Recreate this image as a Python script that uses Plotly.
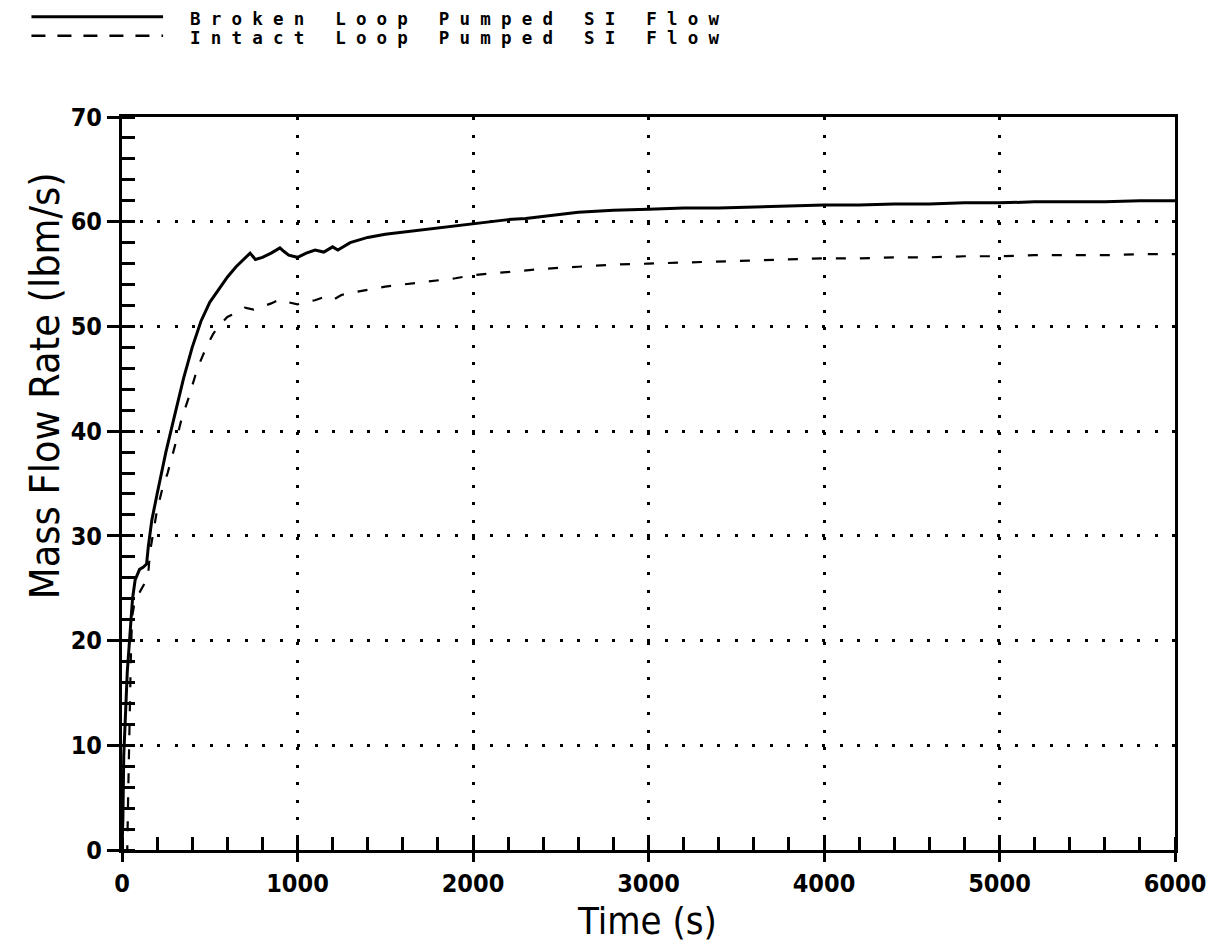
import plotly.graph_objects as go


# -------------------------------------------------------
# Data
# -------------------------------------------------------

broken_time = [
    0, 5, 10, 20, 30, 45, 60, 75, 100, 120, 140, 150, 170, 200, 250,
    300, 350, 400, 450, 500, 550, 600, 650, 700, 730, 760, 800, 850,
    900, 920, 950, 1000, 1050, 1100, 1150, 1200, 1230, 1300, 1400,
    1500, 1600, 1700, 1800, 1900, 2000, 2100, 2200, 2300, 2400, 2500,
    2600, 2700, 2800, 3000, 3200, 3400, 3600, 3800, 4000, 4200, 4400,
    4600, 4800, 5000, 5200, 5400, 5600, 5800, 6000
]

broken_flow = [
    0, 3, 9, 14, 17, 20.5, 24, 25.8, 26.8, 27, 27.3, 29, 31.5, 34, 38,
    41.5, 45, 48, 50.5, 52.3, 53.5, 54.7, 55.7, 56.5, 57, 56.4, 56.6, 57,
    57.5, 57.2, 56.8, 56.6, 57, 57.3, 57.1, 57.6, 57.3, 58, 58.5,
    58.8, 59, 59.2, 59.4, 59.6, 59.8, 60, 60.2, 60.3, 60.5, 60.7,
    60.9, 61, 61.1, 61.2, 61.3, 61.3, 61.4, 61.5, 61.6, 61.6, 61.7,
    61.7, 61.8, 61.8, 61.9, 61.9, 61.9, 62.0, 62.0
]

intact_time = [
    0, 30, 35, 40, 45, 50, 55, 60, 70, 85, 100, 120, 140, 150, 160,
    180, 200, 230, 260, 300, 340, 380, 430, 480, 520, 560, 600, 650,
    700, 750, 800, 850, 900, 950, 1000, 1050, 1100, 1150, 1200, 1250,
    1300, 1400, 1500, 1600, 1700, 1800, 1900, 2000, 2200, 2400, 2600,
    2800, 3000, 3200, 3400, 3600, 3800, 4000, 4200, 4400, 4600, 4800,
    5000, 5200, 5400, 5600, 5800, 6000
]

intact_flow = [
    0, 0, 5, 11, 15, 18, 21, 22.5, 23.5, 24.2, 24.6, 25.2, 25.8, 26.5, 28.5,
    30.5, 32.5, 34.5, 36, 38.5, 41.2, 43.2, 46, 48, 49.3, 50.2, 50.9, 51.3,
    51.8, 51.6, 51.9, 52.2, 52.6, 52.3, 52.1, 52.4, 52.5, 52.8, 52.5, 53,
    53.2, 53.5, 53.8, 54, 54.2, 54.4, 54.6, 54.9, 55.2, 55.5, 55.7,
    55.9, 56, 56.1, 56.2, 56.3, 56.4, 56.5, 56.5, 56.6, 56.6, 56.7,
    56.7, 56.8, 56.8, 56.8, 56.9, 56.9
]

series_names = [
    "Broken Loop Pumped SI Flow",
    "Intact Loop Pumped SI Flow"
]

x_ticks = [0, 1000, 2000, 3000, 4000, 5000, 6000]
y_ticks = [0, 10, 20, 30, 40, 50, 60, 70]


NARROW = "DejaVu Sans Condensed, DejaVu Sans, sans-serif"
MONO = "DejaVu Sans Mono, Liberation Mono, monospace"


# -------------------------------------------------------
# Figure
# -------------------------------------------------------

fig = go.Figure()

fig.add_trace(
    go.Scatter(
        x=broken_time,
        y=broken_flow,
        mode="lines",
        line=dict(color="black", width=3),
        name=series_names[0],
        showlegend=False
    )
)

fig.add_trace(
    go.Scatter(
        x=intact_time,
        y=intact_flow,
        mode="lines",
        line=dict(color="black", width=2.2, dash="10px,14px"),
        name=series_names[1],
        showlegend=False
    )
)

axis_common = dict(
    showline=True,
    linecolor="black",
    linewidth=3,
    mirror=True,
    zeroline=False,
    showgrid=True,
    gridcolor="black",
    gridwidth=3,
    griddash="3px,14.5px",
    ticks="outside",
    tickwidth=3,
    tickcolor="black",
    tickfont=dict(family=NARROW, size=25, color="black", weight="bold"),
)

fig.update_xaxes(
    range=[0, 6000],
    tickvals=x_ticks,
    ticklen=9,
    minor=dict(dtick=200, ticks="inside", ticklen=13, tickwidth=3,
               tickcolor="black", showgrid=False),
    **axis_common
)

fig.update_yaxes(
    range=[0, 70],
    tickvals=y_ticks,
    ticklen=12,
    minor=dict(dtick=2, ticks="inside", ticklen=13, tickwidth=3,
               tickcolor="black", showgrid=False),
    **axis_common
)

# axis titles
fig.add_annotation(
    text="Time (s)", xref="paper", yref="paper",
    x=0.499, y=-0.0965, xanchor="center", yanchor="middle",
    showarrow=False, font=dict(family=NARROW, size=38, color="black")
)

fig.add_annotation(
    text="Mass Flow Rate (lbm/s)", xref="paper", yref="paper",
    x=-0.073, y=0.633, xanchor="center", yanchor="middle", textangle=-90,
    showarrow=False, font=dict(family=NARROW, size=41, color="black")
)

# legend drawn above the plot
legend_rows = [(1.1337, "solid", 3), (1.1078, "14px,12px", 2.5)]

for (ypos, dash, width), name in zip(legend_rows, series_names):

    fig.add_shape(
        type="line", xref="paper", yref="paper",
        x0=-0.086, x1=0.039, y0=ypos + 0.003, y1=ypos + 0.003,
        line=dict(color="black", width=width, dash=dash)
    )

    fig.add_annotation(
        text='<span style="letter-spacing:10.2px">' + name + "</span>",
        xref="paper", yref="paper",
        x=0.0627, y=ypos, xanchor="left", yanchor="middle",
        showarrow=False,
        font=dict(family=MONO, size=17.5, color="black", weight="bold")
    )

fig.update_layout(
    width=1217,
    height=951,
    margin=dict(l=114, r=50, t=109, b=109),
    paper_bgcolor="white",
    plot_bgcolor="white",
    showlegend=False
)

fig.write_html("out.html")
